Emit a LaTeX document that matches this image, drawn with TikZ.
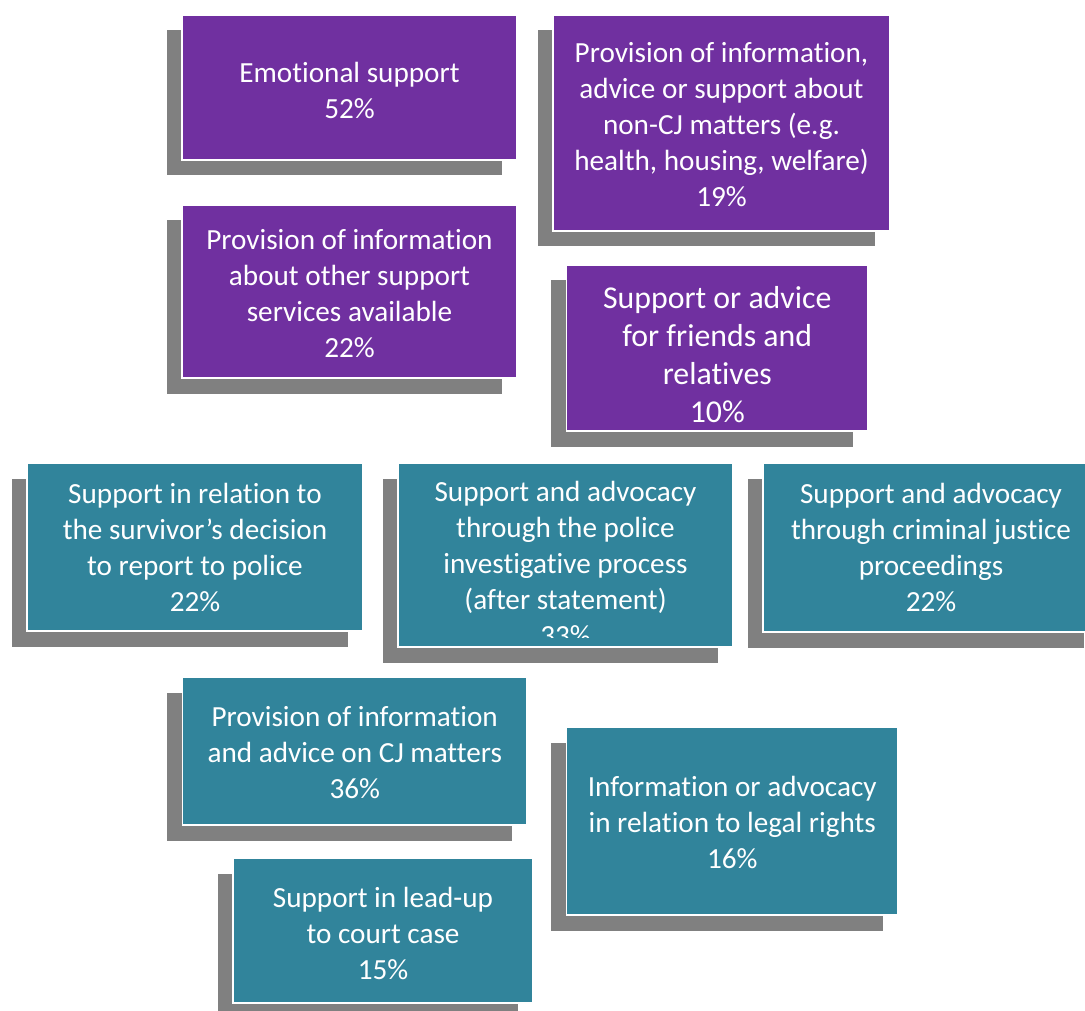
\documentclass[tikz,border=0pt]{standalone}
\usepackage{fontspec}
\setmainfont[Ligatures=NoCommon]{Carlito}
\usetikzlibrary{shadows}
\definecolor{boxpurple}{HTML}{7030A0}
\definecolor{boxteal}{HTML}{31849B}
\definecolor{shadowgray}{HTML}{808080}
\tikzset{
  card/.style={draw=white, line width=1.2pt, inner sep=0pt,
    drop shadow={shadow xshift=-15.5pt, shadow yshift=-15.5pt, opacity=1, fill=shadowgray, draw=none}},
  pcard/.style={card, fill=boxpurple},
  tcard/.style={card, fill=boxteal},
  cardtext/.style={text=white, align=center, inner sep=0pt, font=\fontsize{29.2}{36}\selectfont},
}
\begin{document}
\begin{tikzpicture}[x=1pt,y=-1pt]
\useasboundingbox (0,0) rectangle (1085,1011);

% purple cards
\node[pcard, minimum width=335pt, minimum height=145pt] (emo) at (349.5,87.5) {};
\node[cardtext] (emo-t) at ([yshift=-2.5pt]emo.center) {Emotional support\\52\%};
\node[pcard, minimum width=337pt, minimum height=216pt] (noncj) at (721.5,123) {};
\node[cardtext] (noncj-t) at ([yshift=-2pt]noncj.center)
  {Provision of information,\\advice or support about\\non-CJ matters (e.g.\\health, housing, welfare)\\19\%};
\node[pcard, minimum width=335pt, minimum height=173pt] (other) at (349.5,291.5) {};
\node[cardtext] (other-t) at ([yshift=-2pt]other.center)
  {Provision of information\\about other support\\services available\\22\%};
\node[pcard, minimum width=301.5pt, minimum height=166pt] (friends) at (717.25,348) {};
\node[cardtext, font=\fontsize{31.8}{38}\selectfont] (friends-t) at ([yshift=-7pt]friends.center)
  {Support or advice\\for friends and\\relatives\\10\%};

% teal cards
\node[tcard, minimum width=336pt, minimum height=168pt] (decide) at (195,547) {};
\node[cardtext] (decide-t) at (decide.center)
  {Support in relation to\\the survivor’s decision\\to report to police\\22\%};
\node[tcard, minimum width=335pt, minimum height=184pt] (police) at (565.5,555) {};
\begin{scope}
  \clip (398,463) rectangle (733,637);
  \node[cardtext] (police-t) at ([yshift=-8pt]police.center)
    {Support and advocacy\\through the police\\investigative process\\(after statement)\\33\%};
\end{scope}
\node[tcard, minimum width=336pt, minimum height=169pt] (cjp) at (931,547.5) {};
\node[cardtext] (cjp-t) at (cjp.center)
  {Support and advocacy\\through criminal justice\\proceedings\\22\%};
\node[tcard, minimum width=344.5pt, minimum height=147.5pt] (cjinfo) at (354.75,751.25) {};
\node[cardtext] (cjinfo-t) at ([yshift=-1pt]cjinfo.center)
  {Provision of information\\and advice on CJ matters\\36\%};
\node[tcard, minimum width=331.5pt, minimum height=187.5pt] (legal) at (732.25,821.25) {};
\node[cardtext] (legal-t) at ([yshift=-1.5pt]legal.center)
  {Information or advocacy\\in relation to legal rights\\16\%};
\node[tcard, minimum width=300pt, minimum height=145pt] (court) at (383,930.5) {};
\node[cardtext] (court-t) at ([yshift=-2.5pt]court.center)
  {Support in lead-up\\to court case\\15\%};
\end{tikzpicture}
\end{document}
